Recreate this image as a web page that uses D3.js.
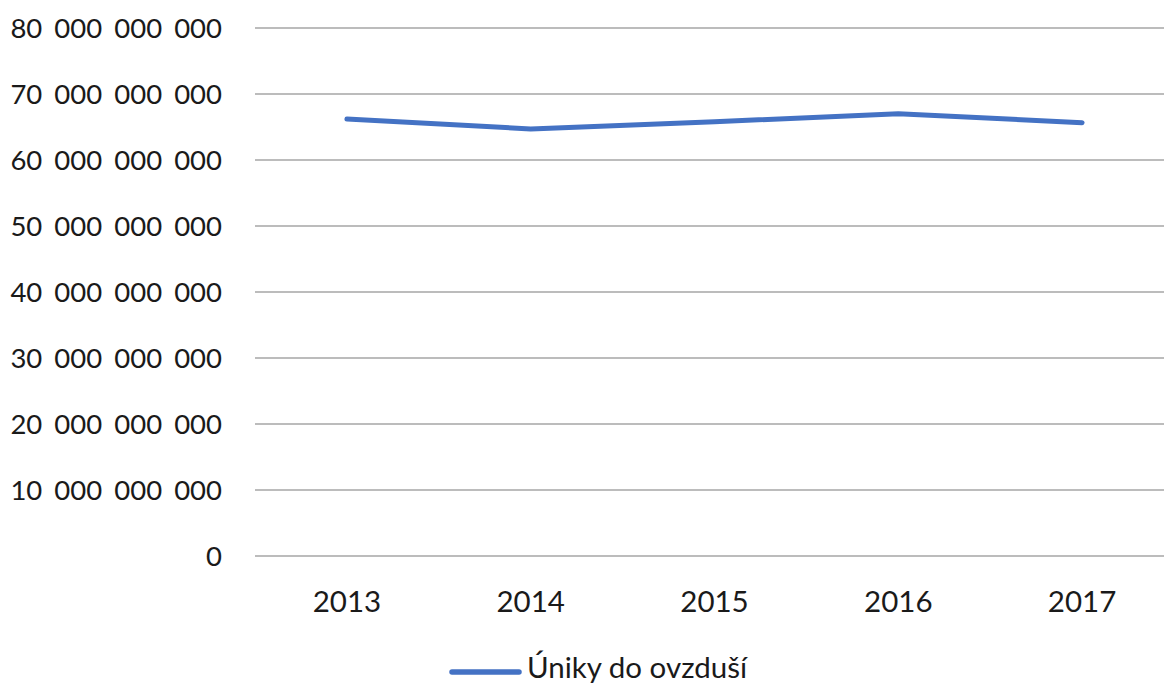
<!DOCTYPE html>
<html>
<head>
<meta charset="utf-8">
<script src="https://cdn.jsdelivr.net/npm/d3@7"></script>
<style>
  html, body { margin: 0; padding: 0; background: #fff; }
  svg { display: block; }
</style>
</head>
<body>
<svg></svg>
<script>
// chart size
var width = 1164;
var height = 688;

// data
var years = ["2013", "2014", "2015", "2016", "2017"];
var emissions = [66200000000, 64700000000, 65800000000, 67000000000, 65650000000];
var yTicks = [0, 10000000000, 20000000000, 30000000000, 40000000000,
              50000000000, 60000000000, 70000000000, 80000000000];
var seriesName = "Úniky do ovzduší";

var font = "Lato, 'Noto Sans', sans-serif";
var lineColor = "#4472c4";

var svg = d3.select("svg")
    .attr("width", width)
    .attr("height", height);

// x: category bands, the right part is cut off by the window like in the picture
var x = d3.scalePoint()
    .domain(years)
    .range([255, 1174])
    .padding(0.5);

var y = d3.scaleLinear()
    .domain([0, 80000000000])
    .range([556, 28]);

// Czech style number format: space as thousands separator
var locale = d3.formatLocale({ decimal: ",", thousands: " ", grouping: [3], currency: ["", " Kč"] });
var fmt = locale.format(",.0f");

// gridlines
svg.append("g")
    .selectAll("line")
    .data(yTicks)
    .enter().append("line")
    .attr("x1", 255)
    .attr("x2", width)
    .attr("y1", function(d) { return y(d); })
    .attr("y2", function(d) { return y(d); })
    .style("stroke", "#a6a6a6")
    .style("stroke-width", 1.6);

// y labels
svg.append("g")
    .selectAll("text")
    .data(yTicks)
    .enter().append("text")
    .attr("x", 222)
    .attr("y", function(d) { return y(d) + 10; })
    .attr("text-anchor", "end")
    .attr("word-spacing", "5px")
    .style("font-family", font)
    .style("font-size", "27.5px")
    .style("fill", "#1a1a1a")
    .text(function(d) { return fmt(d); });

// x labels
svg.append("g")
    .selectAll("text")
    .data(years)
    .enter().append("text")
    .attr("x", function(d) { return x(d); })
    .attr("y", 612)
    .attr("text-anchor", "middle")
    .style("font-family", font)
    .style("font-size", "29.5px")
    .style("fill", "#1a1a1a")
    .text(function(d) { return d; });

// the series line
var line = d3.line()
    .x(function(d, i) { return x(years[i]); })
    .y(function(d) { return y(d); });

svg.append("path")
    .datum(emissions)
    .attr("d", line)
    .style("fill", "none")
    .style("stroke", lineColor)
    .style("stroke-width", 5)
    .style("stroke-linecap", "round")
    .style("stroke-linejoin", "round");

// legend
var legend = svg.append("g").attr("transform", "translate(450,672)");

legend.append("line")
    .attr("x1", 2)
    .attr("x2", 69)
    .attr("y1", 0)
    .attr("y2", 0)
    .style("stroke", lineColor)
    .style("stroke-width", 5.5)
    .style("stroke-linecap", "round");

legend.append("text")
    .attr("x", 77)
    .attr("y", 6)
    .style("font-family", font)
    .style("font-size", "29.5px")
    .style("fill", "#1a1a1a")
    .text(seriesName);
</script>
</body>
</html>
